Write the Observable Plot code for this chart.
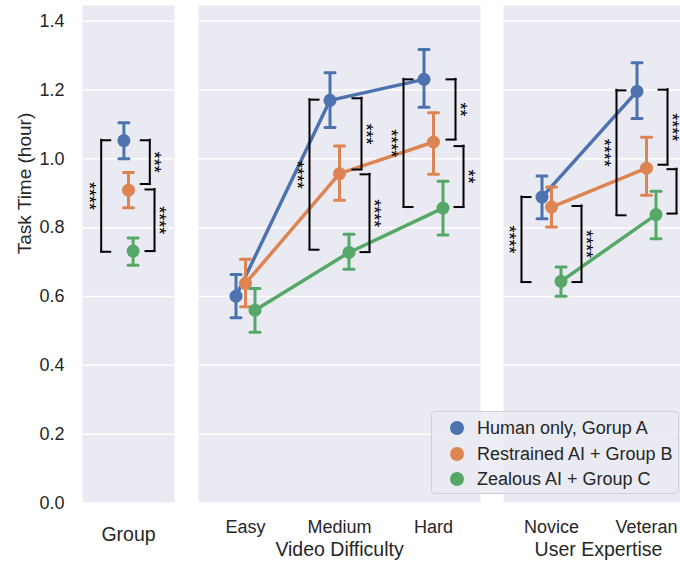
<!DOCTYPE html>
<html>
<head>
<meta charset="utf-8">
<script src="https://cdn.jsdelivr.net/npm/d3@7"></script>
<script src="https://cdn.jsdelivr.net/npm/@observablehq/plot@0.6"></script>
<style>
  html, body { margin: 0; padding: 0; background: #fff; overflow: hidden; }
  #wrap { position: relative; width: 680px; height: 565px; overflow: hidden; font-family: "Liberation Sans", Arial, sans-serif; }
  #wrap svg { position: absolute; top: 0; }
  #legend { position: absolute; left: 431px; top: 411px; width: 248px; height: 83px; box-sizing: border-box;
            background: rgba(234,234,242,0.8); border: 1px solid #cfcfd6; border-radius: 4px; }
  .item { position: absolute; left: 0; height: 24px; font-size: 18px; color: #262626; white-space: nowrap; }
  .item span.m { position: absolute; left: 18px; top: 5px; width: 14px; height: 14px; border-radius: 50%; }
  .item span.t { position: absolute; left: 45px; top: 2px; line-height: 20px; }
</style>
</head>
<body>
<div id="wrap"><div id="legend"></div></div>
<script>
// ---------- data ----------
const seriesNames = ["Human only, Gorup A", "Restrained AI + Group B", "Zealous AI + Group C"];
const seriesColors = ["#4C72B0", "#DD8452", "#55A868"];
const yTickValues = [0, 0.2, 0.4, 0.6, 0.8, 1.0, 1.2, 1.4];

const groupCategories = ["Group"];
const groupMean = [[1.053], [0.909], [0.732]];
const groupLow  = [[1.000], [0.858], [0.691]];
const groupHigh = [[1.105], [0.960], [0.770]];

const difficultyCategories = ["Easy", "Medium", "Hard"];
const difficultyMean = [[0.601, 1.170, 1.231], [0.638, 0.957, 1.049], [0.560, 0.728, 0.857]];
const difficultyLow  = [[0.538, 1.091, 1.150], [0.570, 0.880, 0.955], [0.496, 0.679, 0.779]];
const difficultyHigh = [[0.664, 1.250, 1.318], [0.708, 1.037, 1.134], [0.623, 0.781, 0.935]];

const expertiseCategories = ["Novice", "Veteran"];
const expertiseMean = [[0.889, 1.196], [0.860, 0.973], [0.644, 0.838]];
const expertiseLow  = [[0.826, 1.117], [0.802, 0.894], [0.601, 0.768]];
const expertiseHigh = [[0.950, 1.279], [0.918, 1.063], [0.686, 0.906]];

// significance brackets: [category, slot (L = left, R0/R1 = right inner/outer), from, to, stars]
const groupBrackets = [
  ["Group", "L", 1.054, 0.730, "****"],
  ["Group", "R0", 1.054, 0.927, "***"],
  ["Group", "R1", 0.911, 0.732, "****"]
];
const difficultyBrackets = [
  ["Medium", "L", 1.172, 0.736, "****"],
  ["Medium", "R0", 1.176, 0.969, "***"],
  ["Medium", "R1", 0.955, 0.729, "****"],
  ["Hard", "L", 1.231, 0.860, "****"],
  ["Hard", "R0", 1.231, 1.056, "**"],
  ["Hard", "R1", 1.037, 0.860, "**"]
];
const expertiseBrackets = [
  ["Novice", "L", 0.889, 0.642, "****"],
  ["Novice", "R1", 0.863, 0.642, "****"],
  ["Veteran", "L", 1.199, 0.836, "****"],
  ["Veteran", "R0", 1.201, 0.983, "****"],
  ["Veteran", "R1", 0.970, 0.841, "*"]
];

// ---------- custom symbols ----------
const capSymbol = { draw(ctx, size) { const r = Math.sqrt(size / Math.PI); ctx.moveTo(-r, 0); ctx.lineTo(r, 0); } };
const tickRight = { draw(ctx, size) { const r = Math.sqrt(size / Math.PI); ctx.moveTo(0, 0); ctx.lineTo(r, 0); } };
const tickLeft  = { draw(ctx, size) { const r = Math.sqrt(size / Math.PI); ctx.moveTo(-r, 0); ctx.lineTo(0, 0); } };

const TOP = 5, BOTTOM = 62.5, H = 565;
const yDomain = [0, 1.4456];
const textColor = "#262626";

function panel({categories, mean, low, high, brackets, width, marginLeft, dodge, slots, yAxis, xTitle, tickLabels}) {
  const marks = [
    Plot.frame({fill: "#EAEAF2", stroke: "none"}),
    Plot.gridY(yTickValues, {stroke: "white", strokeOpacity: 1, strokeWidth: 1.5})
  ];
  mean.forEach((m, s) => {
    const rows = categories.map((c, i) => ({c, m: m[i], lo: low[s][i], hi: high[s][i]}));
    const dx = (s - 1) * dodge;
    const color = seriesColors[s];
    if (categories.length > 1) marks.push(Plot.line(rows, {x: "c", y: "m", stroke: color, strokeWidth: 3.5, dx}));
    marks.push(Plot.ruleX(rows, {x: "c", y1: "lo", y2: "hi", stroke: color, strokeWidth: 3, dx}));
    marks.push(Plot.dot(rows, {x: "c", y: "lo", symbol: capSymbol, r: 5, stroke: color, strokeWidth: 3, strokeLinecap: "round", fill: "none", dx}));
    marks.push(Plot.dot(rows, {x: "c", y: "hi", symbol: capSymbol, r: 5, stroke: color, strokeWidth: 3, strokeLinecap: "round", fill: "none", dx}));
    marks.push(Plot.dot(rows, {x: "c", y: "m", r: 6.5, fill: color, dx}));
  });
  const br = brackets.map(([c, slot, y1, y2, label]) => ({c, slot, y1, y2, label}));
  for (const slot of ["L", "R0", "R1"]) {
    const rows = br.filter(d => d.slot === slot);
    if (!rows.length) continue;
    const off = slots[slot];
    const left = slot === "L";
    const sym = left ? tickRight : tickLeft;
    marks.push(Plot.ruleX(rows, {x: "c", y1: "y1", y2: "y2", stroke: "black", strokeWidth: 2, strokeLinecap: "square", dx: off}));
    marks.push(Plot.dot(rows, {x: "c", y: "y1", symbol: sym, r: 9, stroke: "black", strokeWidth: 2, strokeLinecap: "square", fill: "none", dx: off}));
    marks.push(Plot.dot(rows, {x: "c", y: "y2", symbol: sym, r: 9, stroke: "black", strokeWidth: 2, strokeLinecap: "square", fill: "none", dx: off}));
    marks.push(Plot.text(rows, {x: "c", y: d => (d.y1 + d.y2) / 2, text: "label", rotate: 90, fontSize: 18, fill: "black",
      dx: left ? off - 12.5 : off + 4.2}));
  }
  if (yAxis) {
    marks.push(Plot.axisY(yTickValues, {tickSize: 0, tickPadding: 18, tickFormat: d3.format(".1f"), fontSize: 18, label: null, fill: textColor}));
    marks.push(Plot.text(["Task Time (hour)"], {frameAnchor: "left", dx: -58, rotate: -90, fontSize: 19, fill: textColor}));
  }
  if (tickLabels) {
    marks.push(Plot.axisX({tickSize: 0, tickPadding: 17, fontSize: 18, label: null, fill: textColor}));
    marks.push(Plot.text([xTitle], {frameAnchor: "bottom", lineAnchor: "bottom", dy: 53, fontSize: 19.5, fill: textColor}));
  } else {
    marks.push(Plot.text([xTitle], {frameAnchor: "bottom", lineAnchor: "bottom", dy: 37.5, fontSize: 19.5, fill: textColor}));
  }
  return Plot.plot({
    width, height: H,
    marginLeft, marginRight: 0, marginTop: TOP, marginBottom: BOTTOM,
    style: {fontFamily: "'Liberation Sans', Arial, sans-serif", color: textColor, background: "transparent", overflow: "visible"},
    x: {type: "point", domain: categories, padding: 0.5, label: null, axis: tickLabels ? undefined : null},
    y: {domain: yDomain, label: null, axis: yAxis ? undefined : null},
    marks
  });
}

const wrap = document.getElementById("wrap");
const legend = document.getElementById("legend");

const p1 = panel({categories: groupCategories, mean: groupMean, low: groupLow, high: groupHigh, brackets: groupBrackets,
  width: 174, marginLeft: 82, dodge: 4.6, slots: {L: -27.3, R0: 21.3, R1: 26}, yAxis: true, xTitle: "Group", tickLabels: false});
const p2 = panel({categories: difficultyCategories, mean: difficultyMean, low: difficultyLow, high: difficultyHigh, brackets: difficultyBrackets,
  width: 282, marginLeft: 0, dodge: 9.5, slots: {L: -30, R0: 22, R1: 30}, yAxis: false, xTitle: "Video Difficulty", tickLabels: true});
const p3 = panel({categories: expertiseCategories, mean: expertiseMean, low: expertiseLow, high: expertiseHigh, brackets: expertiseBrackets,
  width: 190, marginLeft: 0, dodge: 9.5, slots: {L: -30, R0: 21, R1: 30}, yAxis: false, xTitle: "User Expertise", tickLabels: true});

p1.style.left = "0px";
p2.style.left = "198px";
p3.style.left = "503px";
wrap.insertBefore(p1, legend);
wrap.insertBefore(p2, legend);
wrap.insertBefore(p3, legend);

d3.select(legend).selectAll("div.item").data(seriesNames).join("div")
  .attr("class", "item")
  .style("top", (d, i) => (4 + i * 25.5) + "px")
  .each(function(d, i) {
    const el = d3.select(this);
    el.append("span").attr("class", "m").style("background", seriesColors[i]);
    el.append("span").attr("class", "t").text(d);
  });
</script>
</body>
</html>
